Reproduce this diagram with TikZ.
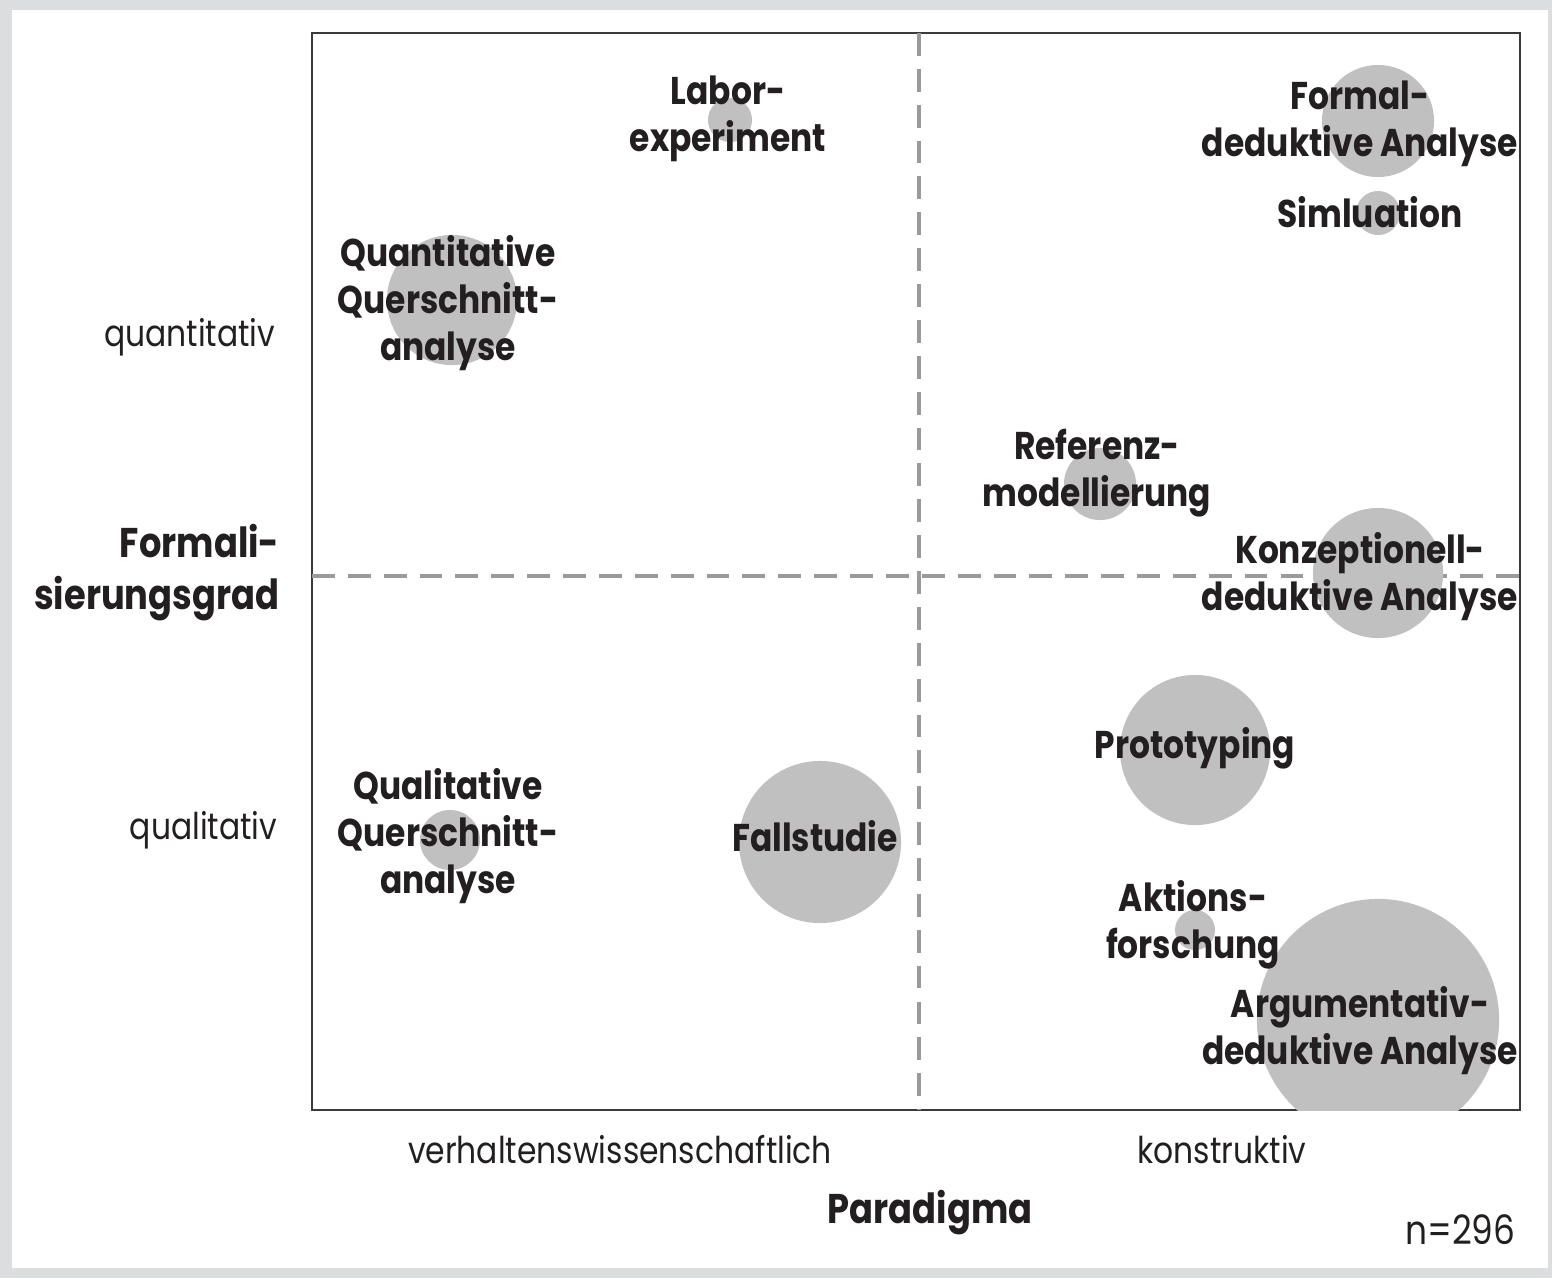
\documentclass[tikz,border=0pt]{standalone}
\usepackage{fontspec}
\setmainfont{Poppins}[FakeStretch=0.85]
\usepackage{tikz}
\usetikzlibrary{positioning}
\definecolor{paneltint}{HTML}{DCDDDF}
\definecolor{bubblegray}{HTML}{C0C0C0}
\definecolor{dashgray}{HTML}{9A9A9A}
\definecolor{framedark}{HTML}{3A3A3A}
\definecolor{inkblack}{HTML}{231F20}

\begin{document}
\begin{tikzpicture}[x=0.01cm,y=-0.01cm,
 bubble/.style={circle,fill=bubblegray,inner sep=0pt},
 method/.style={align=center,text=inkblack,inner sep=0pt,
   font=\bfseries\fontsize{11}{13.4}\selectfont},
 pole/.style={text=inkblack,inner sep=0pt,font=\fontsize{10.5}{12}\selectfont},
 axis title/.style={text=inkblack,inner sep=0pt,align=right,
   font=\bfseries\fontsize{11.8}{14.8}\selectfont},
 divider/.style={dashgray,line width=1.1pt,dash pattern=on 6.5pt off 3.7pt}]
 \useasboundingbox (0,0) rectangle (1552,1278);
 \fill[paneltint] (0,0) rectangle (1552,1278);
 \fill[white] (12,10) rectangle (1548,1268);

 \coordinate (SW) at (312,1110);
 \coordinate (NE) at (1520,33);
 \coordinate (midL) at (312,576);
 \coordinate (midR) at (1520,576);
 \coordinate (midT) at (919,33);
 \coordinate (midB) at (919,1110);

 \draw[framedark,line width=0.6pt] (SW) rectangle (NE);
 \draw[divider] (midL) -- (midR);
 \draw[divider] (midT) -- (midB);

 \begin{scope}
  \clip (SW) rectangle (NE);
  \foreach \n/\x/\y/\r in {labor/730/120/22, quanti/452/300/65,
    formal/1378/121/56, simul/1378/213/22, referenz/1100/484/36,
    konzept/1378/573/65, proto/1195/750/75, quali/450/840/30,
    fall/820/842/81, aktion/1195/930/20, argument/1378/1020/121}
   \node[bubble,minimum size=\r*0.02cm] (\n) at (\x,\y) {};
 \end{scope}

 \node[method] (laborT) at (728,119) {Labor-\\experiment};
 \node[method] (quantiT) at (448,303) {Quantitative\\Querschnitt-\\analyse};
 \node[method] (formalT) at (1360,124) {Formal-\\deduktive Analyse};
 \node[method] (simulT) at (1370,212) {Simluation};
 \node[method] (referenzT) at (1097,473) {Referenz-\\modellierung};
 \node[method] (konzeptT) at (1360,577) {Konzeptionell-\\deduktive Analyse};
 \node[method] (protoT) at (1195,748) {Prototyping};
 \node[method] (qualiT) at (448,836) {Qualitative\\Querschnitt-\\analyse};
 \node[method] (fallT) at (815,836) {Fallstudie};
 \node[method] (aktionT) at (1193,925) {Aktions-\\forschung};
 \node[method] (argumentT) at (1360,1031) {Argumentativ-\\deduktive Analyse};

 \node[pole,anchor=east] (quantitativ) at (276,337) {quantitativ};
 \node[pole,anchor=east] (qualitativ) at (278,830) {qualitativ};
 \node[axis title,anchor=east] (formgrad) at (280,573) {Formali-\\sierungsgrad};
 \node[pole] (verhalten) at (620,1150) {verhaltenswissenschaftlich};
 \node[pole] (konstruktiv) at (1222,1150) {konstruktiv};
 \node[axis title] (paradigma) at (930,1213) {Paradigma};
 \node[pole,anchor=east,font=\fontsize{11.5}{13}\selectfont] (sample) at (1516,1230) {n=296};
\end{tikzpicture}
\end{document}
